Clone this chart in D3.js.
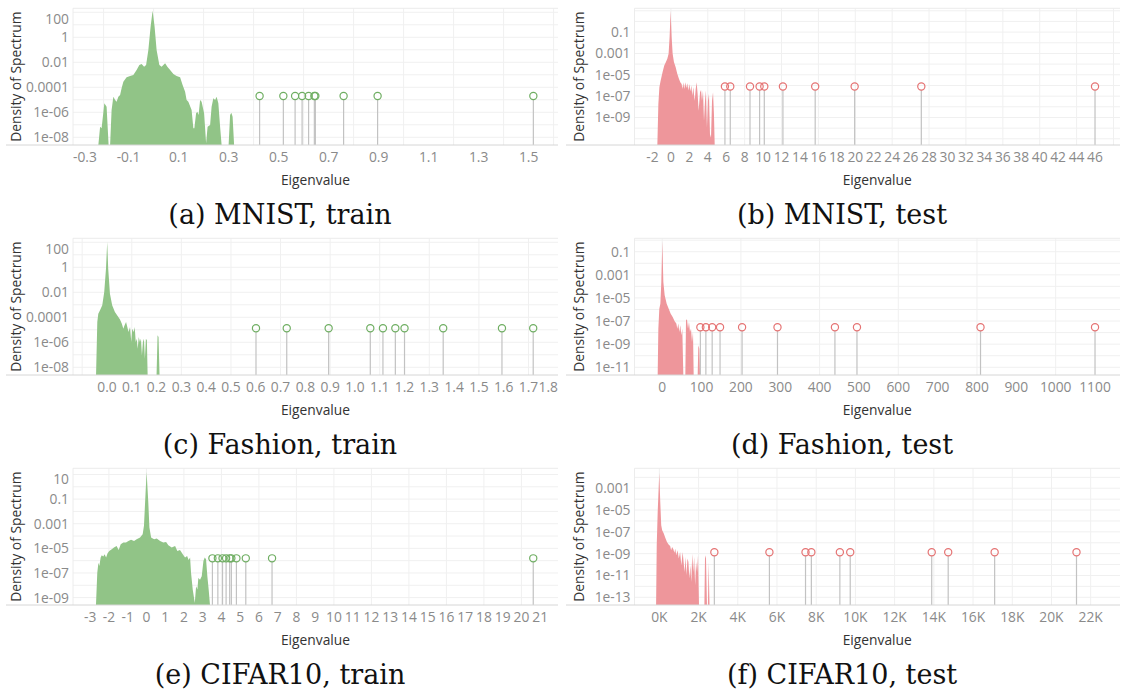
<!DOCTYPE html>
<html>
<head>
<meta charset="utf-8">
<script src="https://cdn.jsdelivr.net/npm/d3@7"></script>
<style>
  body { margin: 0; background: #fff; }
  svg { display: block; }
  .tick-label { font-family: "Open Sans", Lato, sans-serif; font-size: 13.8px; fill: #8a8a8a; }
  .axis-title { font-family: "Open Sans", Lato, sans-serif; font-size: 13.8px; fill: #333; }
  .caption { font-family: "DejaVu Serif", serif; font-size: 27px; fill: #111; }
</style>
</head>
<body>
<svg id="chart" width="1122" height="694"></svg>
<script>
/// DATA ///
// spectrum density, [eigenvalue, log10 density]; null = no mass
const mnistTrainDensity = [
  [-0.221, null], [-0.214, -7.15], [-0.208, -7.28], [-0.197, -5.28], [-0.188, -5.55], [-0.18, null],
  [-0.174, null], [-0.168, -5.81], [-0.161, -4.75], [-0.154, -5.01], [-0.148, -5.15], [-0.141, -4.75],
  [-0.134, -4.61], [-0.128, -4.08], [-0.121, -3.55], [-0.108, -3.2], [-0.094, -3.09], [-0.081, -3.01],
  [-0.068, -2.61], [-0.057, -2.21], [-0.048, -2.13], [-0.038, -2.35], [-0.03, -2.21], [-0.021, -1.01],
  [-0.012, 0.85], [-0.004, 2.13], [0.004, 0.85], [0.012, -1.01], [0.023, -2.21], [0.032, -2.35],
  [0.046, -2.08], [0.055, -2.35], [0.066, -2.61], [0.079, -2.93], [0.092, -3.09], [0.106, -3.2],
  [0.116, -3.81], [0.126, -4.35], [0.132, -5.01], [0.139, -5.15], [0.152, -5.81], [0.159, -7.28],
  [0.163, -7.28], [0.17, -6.08], [0.175, -5.95], [0.18, -6.21], [0.186, -5.01], [0.192, -5.15],
  [0.202, -6.08], [0.21, -8.48], [0.216, -7.15], [0.226, -7.01], [0.232, -5.55], [0.239, -4.88],
  [0.246, -5.01], [0.252, -4.75], [0.259, -5.28], [0.266, -7.15], [0.272, null], [0.3, null],
  [0.306, -6.21], [0.311, -6.03], [0.316, -6.35], [0.322, null]
];
const mnistTestDensity = [
  [-1.47, null], [-1.36, -7.74], [-1.25, -6.17], [-1.11, -5.54], [-0.9, -4.75], [-0.72, -4.13],
  [-0.54, -3.81], [-0.39, -3.5], [-0.25, -3.03], [-0.14, -1.45], [-0.03, 1.0], [0.08, -1.45],
  [0.19, -3.03], [0.33, -3.81], [0.51, -4.28], [0.69, -4.91], [0.87, -5.38], [1.02, -5.7],
  [1.16, -5.86], [1.27, -6.33], [1.34, -5.7], [1.45, -6.33], [1.56, -5.7], [1.67, -6.23],
  [1.78, -5.79], [1.89, -6.48], [2.0, -5.86], [2.11, -6.55], [2.22, -6.01], [2.32, -6.96],
  [2.43, -6.17], [2.58, -7.43], [2.69, -6.33], [2.79, -5.7], [2.9, -6.8], [3.01, -8.37],
  [3.16, -6.64], [3.27, -6.42], [3.37, -7.43], [3.48, -6.48], [3.59, -9.31], [3.7, -7.43],
  [3.8, -6.48], [3.91, -9.94], [4.02, -7.43], [4.13, -6.8], [4.24, -10.57], [4.35, -10.89],
  [4.46, -7.43], [4.57, -6.64], [4.67, -8.69], [4.75, null]
];
const fashionTrainDensity = [
  [-0.044, null], [-0.039, -4.37], [-0.035, -3.71], [-0.028, -3.44], [-0.019, -3.04], [-0.011, -1.97],
  [-0.004, -0.11], [0.001, 2.03], [0.005, -0.11], [0.012, -2.11], [0.021, -3.04], [0.032, -3.57],
  [0.043, -3.89], [0.052, -4.16], [0.06, -4.51], [0.066, -4.91], [0.071, -4.64], [0.077, -4.37],
  [0.082, -4.77], [0.087, -5.17], [0.093, -4.77], [0.098, -5.97], [0.102, -4.91], [0.108, -5.17],
  [0.112, -4.77], [0.116, -5.97], [0.12, -5.71], [0.124, -6.51], [0.128, -5.57], [0.133, -5.97],
  [0.137, -5.71], [0.141, -7.04], [0.145, -5.97], [0.149, -5.71], [0.153, -7.31], [0.157, -5.71],
  [0.161, -5.84], [0.164, null], [0.2, null], [0.204, -5.44], [0.208, -5.57], [0.212, null]
];
const fashionTestDensity = [
  [-11.5, null], [-9.8, -7.66], [-7.3, -5.93], [-4.7, -5.5], [-2.2, -3.62], [0.3, -0.1],
  [2.9, -3.62], [6.3, -4.77], [11.4, -5.5], [16.5, -5.93], [21.6, -6.36], [26.6, -6.65],
  [31.7, -7.02], [35.9, -7.22], [38.4, -7.66], [40.9, -7.22], [43.5, -7.95], [46.0, -7.37],
  [48.6, -8.24], [51.1, -7.66], [53.7, null], [58.8, null], [60.5, -6.94], [63.0, -6.85],
  [65.6, -7.66], [68.1, -7.08], [70.6, -7.95], [73.2, -7.66], [75.7, -8.81], [78.3, -7.95],
  [80.0, null], [90.2, null], [91.8, -9.1], [94.3, -9.39], [96.1, null]
];
const cifarTrainDensity = [
  [-2.69, null], [-2.62, -6.98], [-2.56, -6.16], [-2.51, -6.44], [-2.44, -5.75], [-2.38, -5.56],
  [-2.3, -5.67], [-2.23, -5.48], [-2.15, -5.75], [-2.07, -5.4], [-1.98, -5.21], [-1.85, -5.07],
  [-1.73, -4.94], [-1.59, -4.8], [-1.48, -5.13], [-1.37, -4.67], [-1.23, -4.53], [-1.09, -4.53],
  [-0.96, -4.4], [-0.82, -4.31], [-0.66, -4.4], [-0.52, -4.26], [-0.34, -4.12], [-0.2, -3.85],
  [-0.13, -3.17], [-0.07, -1.26], [0.01, 1.2], [0.1, -1.26], [0.16, -3.3], [0.25, -4.12],
  [0.41, -4.26], [0.55, -4.21], [0.73, -4.4], [0.9, -4.53], [1.05, -4.48], [1.17, -4.75],
  [1.35, -4.94], [1.53, -4.8], [1.65, -5.21], [1.79, -5.13], [1.94, -5.48], [2.06, -5.75],
  [2.17, -5.62], [2.25, -5.94], [2.33, -5.75], [2.38, -6.98], [2.47, -8.34], [2.58, -9.43],
  [2.65, -8.07], [2.72, -8.34], [2.77, -7.4], [2.86, -7.54], [2.95, -7.26], [3.04, -6.03],
  [3.11, -5.75], [3.18, -5.89], [3.25, -7.26], [3.32, -8.34], [3.39, null]
];
const cifarTestDensity = [
  [-166, null], [-134, -8.23], [-85, -5.18], [-36, -3.03], [-4, -1.57], [46, -4.26], [95, -6.4],
  [144, -6.86], [225, -7.16], [307, -7.56], [388, -7.93], [470, -8.17], [551, -8.29], [600, -8.69],
  [650, -8.39], [715, -8.6], [764, -8.91], [813, -8.54], [862, -9.15], [927, -8.69], [992, -9.45],
  [1057, -8.84], [1122, -10.07], [1188, -8.84], [1237, -9.76], [1286, -10.68], [1335, -9.3],
  [1384, -10.98], [1433, -9.45], [1482, -9.76], [1531, -11.29], [1580, -10.07], [1629, -11.59],
  [1678, -9.0], [1727, -10.68], [1776, -9.3], [1825, -11.9], [1874, -9.76], [1923, -10.68],
  [1972, -9.15], [2022, null], [2297, null], [2330, -9.15], [2379, -9.45], [2428, null],
  [2477, null], [2510, -9.76], [2559, null]
];

// top-10 eigenvalues (lollipops) and the log10 density they are drawn at
const mnistTrainTop = [0.424, 0.519, 0.566, 0.594, 0.62, 0.643, 0.647, 0.76, 0.896, 1.519];
const mnistTestTop = [5.86, 6.44, 8.58, 9.62, 10.13, 12.15, 15.65, 19.93, 27.16, 46.0];
const fashionTrainTop = [0.601, 0.725, 0.894, 1.062, 1.113, 1.163, 1.2, 1.356, 1.593, 1.719];
const fashionTestTop = [97, 111, 127, 147, 203, 293, 439, 495, 809, 1100];
const cifarTrainTop = [3.52, 3.81, 4.06, 4.25, 4.44, 4.53, 4.8, 5.3, 6.7, 20.63];
const cifarTestTop = [2805, 5614, 7455, 7753, 9207, 9736, 13892, 14733, 17102, 21277];
const topLevels = [-4.7, -6.1, -4.88, -7.54, -5.81, -8.87];

// tick labels
const ticksA = [-0.3, -0.1, 0.1, 0.3, 0.5, 0.7, 0.9, 1.1, 1.3, 1.5];
const gridA = [-0.2, 0, 0.2, 0.4, 0.6, 0.8, 1.0, 1.2, 1.4, 1.6];
const ticksB = [-2, 0, 2, 4, 6, 8, 10, 12, 14, 16, 18, 20, 22, 24, 26, 28, 30, 32, 34, 36, 38, 40, 42, 44, 46];
const gridB = [0, 4, 8, 12, 16, 20, 24, 28, 32, 36, 40, 44, 48];
const ticksC = [0, 0.1, 0.2, 0.3, 0.4, 0.5, 0.6, 0.7, 0.8, 0.9, 1.0, 1.1, 1.2, 1.3, 1.4, 1.5, 1.6, 1.7, 1.8];
const gridC = [-0.1, 0.1, 0.3, 0.5, 0.7, 0.9, 1.1, 1.3, 1.5, 1.7];
const ticksD = [0, 100, 200, 300, 400, 500, 600, 700, 800, 900, 1000, 1100];
const gridD = [0, 200, 400, 600, 800, 1000];
const ticksE = [-3, -2, -1, 0, 1, 2, 3, 4, 5, 6, 7, 8, 9, 10, 11, 12, 13, 14, 15, 16, 17, 18, 19, 20, 21];
const gridE = [-2, 0, 2, 4, 6, 8, 10, 12, 14, 16, 18, 20];
const ticksF = [0, 2000, 4000, 6000, 8000, 10000, 12000, 14000, 16000, 18000, 20000, 22000];
const gridF = [0, 2000, 4000, 6000, 8000, 10000, 12000, 14000, 16000, 18000, 20000, 22000];

const yTicksTrain = [2, 0, -2, -4, -6, -8];
const yLabelsTrain = ["100", "1", "0.01", "0.0001", "1e-06", "1e-08"];
const yTicksB = [-1, -3, -5, -7, -9];
const yLabelsB = ["0.1", "0.001", "1e-05", "1e-07", "1e-09"];
const yTicksD = [-1, -3, -5, -7, -9, -11];
const yLabelsD = ["0.1", "0.001", "1e-05", "1e-07", "1e-09", "1e-11"];
const yTicksE = [1, -1, -3, -5, -7, -9];
const yLabelsE = ["10", "0.1", "0.001", "1e-05", "1e-07", "1e-09"];
const yTicksF = [-3, -5, -7, -9, -11, -13];
const yLabelsF = ["0.001", "1e-05", "1e-07", "1e-09", "1e-11", "1e-13"];

/// LAYOUT ///
const colX = [[73, 558], [634.5, 1120]];
const rowTop = [8.3, 238.3, 468.3];
const plotH = 136.7;
const green = { fill: "#91c487", mark: "#6fae62" };
const red = { fill: "#ee969b", mark: "#e57373" };
const dec1 = (v) => v.toFixed(1);
const plain = (v) => String(v);
const kilo = (v) => v / 1000 + "K";

const panels = [
  { caption: "(a) MNIST, train", col: 0, row: 0, c: green, density: mnistTrainDensity, top: mnistTrainTop,
    xDomain: [-0.3224, 1.6176], yDomain: [-8.62, 2.32], xTicks: ticksA, xGrid: gridA, fmt: dec1,
    yTicks: yTicksTrain, yLabels: yLabelsTrain },
  { caption: "(b) MNIST, test", col: 1, row: 0, c: red, density: mnistTestDensity, top: mnistTestTop,
    xDomain: [-3.948, 48.71], yDomain: [-11.58, 1.23], xTicks: ticksB, xGrid: gridB, fmt: plain,
    yTicks: yTicksB, yLabels: yLabelsB },
  { caption: "(c) Fashion, train", col: 0, row: 1, c: green, density: fashionTrainDensity, top: fashionTrainTop,
    xDomain: [-0.137, 1.819], yDomain: [-8.62, 2.32], xTicks: ticksC, xGrid: gridC, fmt: dec1,
    yTicks: yTicksTrain, yLabels: yLabelsTrain },
  { caption: "(d) Fashion, test", col: 1, row: 1, c: red, density: fashionTestDensity, top: fashionTestTop,
    xDomain: [-70.4, 1163.5], yDomain: [-11.67, 0.16], xTicks: ticksD, xGrid: gridD, fmt: plain,
    yTicks: yTicksD, yLabels: yLabelsD },
  { caption: "(e) CIFAR10, train", col: 0, row: 2, c: green, density: cifarTrainDensity, top: cifarTrainTop,
    xDomain: [-3.915, 21.95], yDomain: [-9.6, 1.5], xTicks: ticksE, xGrid: gridE, fmt: plain,
    yTicks: yTicksE, yLabels: yLabelsE },
  { caption: "(f) CIFAR10, test", col: 1, row: 2, c: red, density: cifarTestDensity, top: cifarTestTop,
    xDomain: [-1268, 23496], yDomain: [-13.71, -1.17], xTicks: ticksF, xGrid: gridF, fmt: kilo,
    yTicks: yTicksF, yLabels: yLabelsF }
];

const svg = d3.select("#chart");

panels.forEach(function (p, i) {
  const [left, right] = colX[p.col];
  const top = rowTop[p.row];
  const bottom = top + plotH;
  const g = svg.append("g");

  const x = d3.scaleLinear().domain(p.xDomain).range([left, right]);
  const y = d3
    .scaleLog()
    .domain([Math.pow(10, p.yDomain[0]), Math.pow(10, p.yDomain[1])])
    .range([bottom, top])
    .clamp(true);
  const yv = (e) => (e === null ? bottom : y(Math.pow(10, e)));

  // grid
  const decades = d3.range(Math.ceil(p.yDomain[0]), Math.floor(p.yDomain[1]) + 1);
  g.selectAll(".hgrid")
    .data(decades)
    .enter()
    .append("line")
    .attr("x1", left)
    .attr("x2", right)
    .attr("y1", (d) => yv(d))
    .attr("y2", (d) => yv(d))
    .style("stroke", "#f0f0f0");
  g.selectAll(".vgrid")
    .data(p.xGrid.filter((d) => x(d) >= left && x(d) <= right))
    .enter()
    .append("line")
    .attr("x1", (d) => x(d))
    .attr("x2", (d) => x(d))
    .attr("y1", top)
    .attr("y2", bottom)
    .style("stroke", "#f0f0f0");
  g.append("line")
    .attr("x1", left).attr("x2", right)
    .attr("y1", top).attr("y2", top)
    .style("stroke", "#ececec");
  g.append("line")
    .attr("x1", left).attr("x2", left)
    .attr("y1", top).attr("y2", bottom)
    .style("stroke", "#ececec");

  // density area
  const area = d3
    .area()
    .x((d) => x(d[0]))
    .y0(bottom)
    .y1((d) => yv(d[1]));
  g.append("path")
    .datum(p.density)
    .attr("d", area)
    .style("fill", p.c.fill)
    .style("stroke", "none");

  // lollipops for top eigenvalues
  const level = yv(topLevels[i]);
  g.selectAll(".stem")
    .data(p.top)
    .enter()
    .append("line")
    .attr("x1", (d) => x(d))
    .attr("x2", (d) => x(d))
    .attr("y1", level + 3.5)
    .attr("y2", bottom)
    .style("stroke", "#c2c2c2")
    .style("stroke-width", 1.2);
  g.selectAll(".dot")
    .data(p.top)
    .enter()
    .append("circle")
    .attr("cx", (d) => x(d))
    .attr("cy", level)
    .attr("r", 3.6)
    .style("fill", "none")
    .style("stroke", p.c.mark)
    .style("stroke-width", 1.2);

  // bottom axis rule
  g.append("line")
    .attr("x1", p.col === 0 ? 6 : 566)
    .attr("x2", right)
    .attr("y1", bottom)
    .attr("y2", bottom)
    .style("stroke", "#d6d6d6");

  // x tick labels, kept inside the pane like tableau does
  g.selectAll(".xlab")
    .data(p.xTicks)
    .enter()
    .append("text")
    .attr("class", "tick-label")
    .attr("y", bottom + 17)
    .attr("text-anchor", "middle")
    .text((d) => p.fmt(d))
    .attr("x", function (d) {
      const half = this.getComputedTextLength() / 2;
      return Math.max(left + half, Math.min(right - half, x(d)));
    });

  // y tick labels
  g.selectAll(".ylab")
    .data(p.yTicks)
    .enter()
    .append("text")
    .attr("class", "tick-label")
    .attr("x", left - 4)
    .attr("y", (d) => Math.max(top + 11, yv(d)) + 5)
    .attr("text-anchor", "end")
    .text((d, j) => p.yLabels[j]);

  // titles
  g.append("text")
    .attr("class", "axis-title")
    .attr("transform", `translate(${p.col === 0 ? 21 : 584},${(top + bottom) / 2}) rotate(-90)`)
    .attr("text-anchor", "middle")
    .text("Density of Spectrum");
  g.append("text")
    .attr("class", "axis-title")
    .attr("x", (left + right) / 2)
    .attr("y", bottom + 40)
    .attr("text-anchor", "middle")
    .text("Eigenvalue");
  g.append("text")
    .attr("class", "caption")
    .attr("x", p.col === 0 ? 280 : 842)
    .attr("y", bottom + 79)
    .attr("text-anchor", "middle")
    .text(p.caption);
});
</script>
</body>
</html>
